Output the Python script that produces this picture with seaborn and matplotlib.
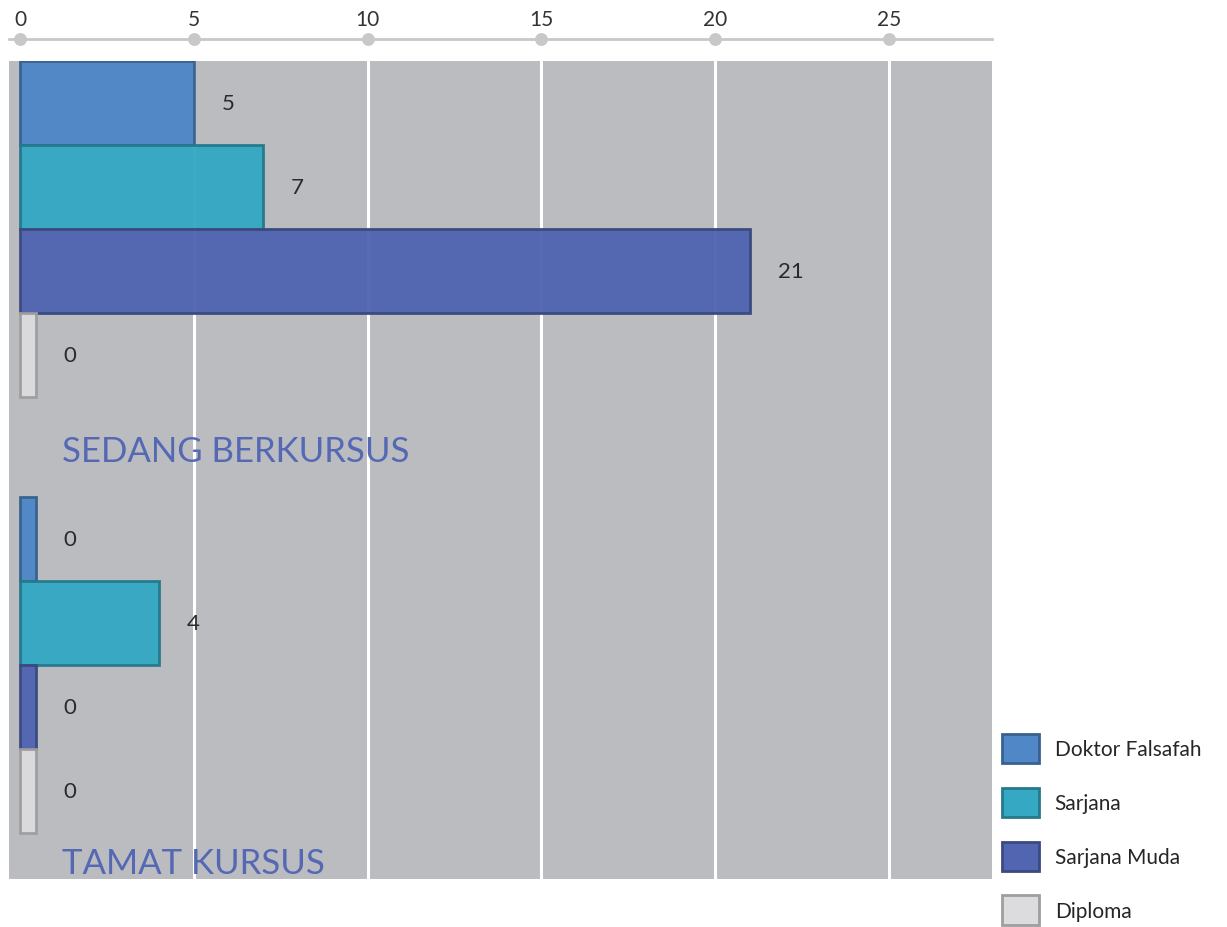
import pandas as pd
import numpy as np
import matplotlib
matplotlib.use("Agg")
import matplotlib.pyplot as plt
import matplotlib.colors as mcolors
import seaborn as sns

# data
groups = ["SEDANG BERKURSUS", "TAMAT KURSUS"]
levels = ["Doktor Falsafah", "Sarjana", "Sarjana Muda", "Diploma"]
sedang = [5, 7, 21, 0]
tamat = [0, 4, 0, 0]
x_ticks = [0, 5, 10, 15, 20, 25]
colors = ["#4f87c7", "#35a8c3", "#5165b1", "#dcdcde"]
group_label_y = [0.51, 1.455]

rows = []
for g, vals in zip(groups, [sedang, tamat]):
    for lev, v in zip(levels, vals):
        rows.append({"status": g, "level": lev, "value": v})
df = pd.DataFrame(rows)
# zero values still get a thin stub like the original
df["drawn"] = df["value"].clip(lower=0.46)

sns.set_theme(style="white")
plt.rcParams["font.family"] = ["Lato", "DejaVu Sans"]

fig = plt.figure(figsize=(12.27, 9.28), dpi=100)
ax = fig.add_axes([9 / 1227, 1 - 880 / 928, 983 / 1227, 818 / 928])
ax.set_facecolor("#bbbcc0")

for t in x_ticks[1:]:
    ax.axvline(t, color="white", lw=2.2, zorder=0)

sns.barplot(data=df, x="drawn", y="status", hue="level", hue_order=levels,
            order=groups, orient="h", palette=colors, width=0.77,
            saturation=1, legend=False, ax=ax, zorder=2)

for cont, col, lev in zip(ax.containers, colors, levels):
    edge = np.array(mcolors.to_rgb(col)) * 0.72
    for bar in cont:
        bar.set_edgecolor(edge)
        bar.set_linewidth(2)
        bar.set_alpha(0.97)
    vals = df[df["level"] == lev]["value"].tolist()
    ax.bar_label(cont, labels=[str(v) for v in vals], padding=20,
                 fontsize=16, color="#2a2a2a")

for g, gy in zip(groups, group_label_y):
    ax.text(1.2, gy, g, fontsize=25, color="#5568b4", va="center", ha="left")

ax.set_xlim(-0.316, 27.96)
ax.set_ylim(1.491, -0.385)
ax.set_xlabel("")
ax.set_ylabel("")
ax.set_yticks([])

ax.xaxis.tick_top()
ax.set_xticks(x_ticks)
ax.set_xticklabels([str(t) for t in x_ticks])
for s in ["left", "right", "bottom"]:
    ax.spines[s].set_visible(False)
ax.spines["top"].set_position(("outward", 16))
ax.spines["top"].set_color("#c8c8c8")
ax.spines["top"].set_linewidth(2)
ax.tick_params(axis="x", which="major", pad=1, labelsize=15, labelcolor="#333333")
for tk in ax.xaxis.get_major_ticks():
    tk.tick2line.set_marker("o")
    tk.tick2line.set_markersize(8)
    tk.tick2line.set_markerfacecolor("#c8c8c8")
    tk.tick2line.set_markeredgecolor("#c8c8c8")

handles = [plt.Rectangle((0, 0), 1, 1, facecolor=c,
                         edgecolor=np.array(mcolors.to_rgb(c)) * 0.72, lw=2)
           for c in colors]
fig.legend(handles, levels, loc="upper left", bbox_to_anchor=(1002 / 1227, 1 - 735 / 928),
           frameon=False, fontsize=15, handlelength=1.78, handleheight=1.78,
           labelspacing=1.18, handletextpad=0.75, borderaxespad=0, borderpad=0)

fig.savefig("out.png", dpi=100)
